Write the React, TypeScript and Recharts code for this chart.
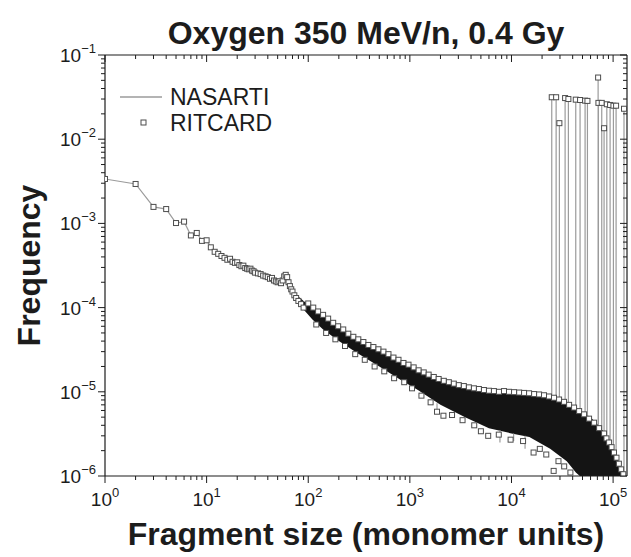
import React from "react";
import {
  ComposedChart,
  Line,
  Area,
  Scatter,
  XAxis,
  YAxis,
  Legend,
  Label,
} from "recharts";

const FONT = '"Liberation Sans", Arial, Helvetica, sans-serif';
const INK = "#1c1c1c";
const LINE_GREY = "#9b9b9b";
const SQUARE_EDGE = "#4d4d4d";

// small fragments, where both codes sit on top of each other
const smallSizes = [
  1, 2, 3, 4, 5, 6, 7, 8, 9, 10, 11, 12, 13, 14, 15, 16, 17, 18, 19, 20, 21, 22,
  23, 24, 25, 26, 27, 28, 29, 30, 32, 34, 36, 38, 40, 42, 44, 46, 48, 50, 52, 54,
  56, 58, 60, 62, 64, 66, 68, 70, 73, 76, 80, 85, 90,
];
const smallFreq = [
  3.37e-3, 2.94e-3, 1.57e-3, 1.48e-3, 1.01e-3, 1.05e-3, 7.2e-4, 7.7e-4, 6.2e-4,
  6.3e-4, 5.2e-4, 4.6e-4, 4.35e-4, 4.1e-4, 3.9e-4, 3.7e-4, 3.8e-4, 3.5e-4,
  3.4e-4, 3.45e-4, 3.2e-4, 3.1e-4, 3.15e-4, 2.95e-4, 2.9e-4, 2.85e-4, 2.9e-4,
  2.75e-4, 2.7e-4, 2.6e-4, 2.55e-4, 2.5e-4, 2.4e-4, 2.35e-4, 2.3e-4, 2.2e-4,
  2.25e-4, 2.1e-4, 2.05e-4, 2.0e-4, 2.05e-4, 1.95e-4, 2.1e-4, 2.35e-4, 2.45e-4,
  2.3e-4, 2.0e-4, 1.8e-4, 1.65e-4, 1.55e-4, 1.4e-4, 1.3e-4, 1.2e-4, 1.1e-4,
  1.0e-4,
];

// dense RITCARD cloud: lower / upper envelope
const bandSizes = [
  75, 90, 110, 140, 200, 300, 500, 800, 1200, 2000, 3500, 6000, 10000, 15000,
  24000, 35000, 43000, 47000, 60000, 75000, 90000, 100000, 115000, 125000,
];
const bandLow = [
  1.3e-4, 9.5e-5, 7.2e-5, 5.5e-5, 4.0e-5, 2.9e-5, 2.0e-5, 1.4e-5, 1.05e-5,
  7.0e-6, 5.0e-6, 3.7e-6, 3.2e-6, 2.9e-6, 2.1e-6, 1.5e-6, 1.1e-6, 1e-6, 1e-6,
  1e-6, 1e-6, 1e-6, 1e-6, 1e-6,
];
const bandHigh = [
  1.45e-4, 1.2e-4, 1.0e-4, 8.0e-5, 6.0e-5, 4.3e-5, 3.2e-5, 2.3e-5, 1.8e-5,
  1.35e-5, 1.15e-5, 1.02e-5, 9.8e-6, 9.5e-6, 8.8e-6, 7.5e-6, 6.6e-6, 6.0e-6,
  5.0e-6, 3.8e-6, 2.8e-6, 2.1e-6, 1.45e-6, 1.1e-6,
];

// squares along the top edge of the cloud
const edgeSizes = [
  100, 112, 125, 140, 157, 176, 197, 221, 248, 278, 311, 349, 391, 438, 491, 550,
  616, 690, 773, 866, 970, 1090, 1220, 1370, 1530, 1720, 1920, 2160, 2420, 2710,
  3030, 3400, 3810, 4270, 4780, 5360, 6000, 6720, 7530, 8440, 9450, 10600, 11900,
  13300, 14900, 16700, 18700, 20900, 23400, 26200, 29400, 32900, 36900, 41300,
  46300, 51800, 58000, 65000, 72800, 81500, 86000, 91300, 96600, 102000, 108000,
  114000, 120000, 126000,
];
const edgeFreq = [
  1.12e-4, 1.0e-4, 9.0e-5, 8.2e-5, 7.4e-5, 6.6e-5, 6.0e-5, 5.5e-5, 4.9e-5,
  4.5e-5, 4.2e-5, 3.9e-5, 3.6e-5, 3.4e-5, 3.2e-5, 3.0e-5, 2.8e-5, 2.55e-5,
  2.4e-5, 2.2e-5, 2.1e-5, 1.95e-5, 1.8e-5, 1.7e-5, 1.6e-5, 1.5e-5, 1.42e-5,
  1.35e-5, 1.3e-5, 1.25e-5, 1.2e-5, 1.17e-5, 1.13e-5, 1.1e-5, 1.08e-5, 1.05e-5,
  1.03e-5, 1.02e-5, 1.0e-5, 1.02e-5, 1.0e-5, 9.9e-6, 9.8e-6, 9.7e-6, 9.6e-6,
  9.4e-6, 9.3e-6, 9.1e-6, 8.8e-6, 8.5e-6, 8.1e-6, 7.6e-6, 7.0e-6, 6.5e-6,
  5.9e-6, 5.4e-6, 4.8e-6, 4.3e-6, 3.7e-6, 3.2e-6, 2.8e-6, 2.5e-6, 2.2e-6,
  1.9e-6, 1.65e-6, 1.4e-6, 1.2e-6, 1.05e-6,
];

// squares along the bottom edge and stragglers below it
const lowSizes = [
  120, 150, 185, 230, 290, 360, 450, 560, 700, 880, 1050, 1300, 1600, 1850, 2140,
  2600, 3300, 4300, 5000, 5900, 7500, 9800, 13000, 16500, 19000, 22000, 26000,
  29000, 33000, 38000,
];
const lowFreq = [
  6.3e-5, 5.0e-5, 4.2e-5, 3.5e-5, 2.8e-5, 2.4e-5, 2.0e-5, 1.75e-5, 1.45e-5,
  1.3e-5, 1.1e-5, 9.0e-6, 7.5e-6, 5.8e-6, 5.2e-6, 5.3e-6, 4.6e-6, 4.0e-6,
  3.4e-6, 3.0e-6, 3.1e-6, 2.7e-6, 2.6e-6, 1.9e-6, 2.1e-6, 1.8e-6, 1.15e-6,
  1.5e-6, 1.3e-6, 1.1e-6,
];

// single large fragments (top squares) and where their spikes meet the cloud
const spikeSizes = [
  24900, 27500, 29600, 33700, 36300, 42900, 47300, 53000, 55900, 71200, 71700,
  77300, 81500, 86700, 93400, 100700, 107000, 128000,
];
const spikeFreq = [
  3.15e-2, 3.15e-2, 1.55e-2, 3.08e-2, 3.0e-2, 2.95e-2, 2.92e-2, 2.87e-2,
  2.85e-2, 5.4e-2, 2.7e-2, 2.7e-2, 1.35e-2, 2.6e-2, 2.55e-2, 2.5e-2, 2.5e-2,
  2.3e-2,
];
const spikeBase = [
  8.7e-6, 8.4e-6, 8.0e-6, 7.6e-6, 7.2e-6, 6.6e-6, 6.0e-6, 5.5e-6, 5.2e-6,
  4.0e-6, 4.0e-6, 3.6e-6, 3.3e-6, 3.0e-6, 2.6e-6, 2.1e-6, 1.8e-6, 5e-7,
];

// NASARTI dips that poke out under the cloud
const dipSizes = [1850, 7700, 10500, 13600];
const dipBase = [7.3e-6, 3.5e-6, 3.2e-6, 3.0e-6];
const dipFreq = [6.0e-6, 2.5e-6, 2.6e-6, 2.1e-6];

const xMajor = [1, 10, 100, 1000, 10000, 100000];
const yMajor = [1e-6, 1e-5, 1e-4, 1e-3, 1e-2, 1e-1];

const minorsOf = (majors: number[]) => {
  const out: number[] = [];
  majors.forEach((m, i) => {
    out.push(m);
    if (i < majors.length - 1) for (let k = 2; k <= 9; k++) out.push(k * m);
  });
  return out;
};
const xTicks = minorsOf(xMajor);
const yTicks = minorsOf(yMajor);

const bandData = bandSizes.map((s, i) => ({ s, band: [bandLow[i], bandHigh[i]] }));
const ritcard = [
  ...smallSizes.map((s, i) => ({ s, f: smallFreq[i] })),
  ...edgeSizes.map((s, i) => ({ s, f: edgeFreq[i] })),
  ...lowSizes.map((s, i) => ({ s, f: lowFreq[i] })),
  ...spikeSizes.map((s, i) => ({ s, f: spikeFreq[i] })),
];
const nasarti = [
  ...smallSizes.map((s, i) => ({ s, f: smallFreq[i] as number | null })),
  { s: 95, f: null },
  ...dipSizes.flatMap((s, i) => [
    { s, f: dipBase[i] },
    { s, f: dipFreq[i] },
    { s, f: null },
  ]),
  ...spikeSizes.flatMap((s, i) => [
    { s, f: spikeBase[i] },
    { s, f: spikeFreq[i] },
    { s, f: null },
  ]),
];

const isMajor = (v: number) =>
  Math.abs(Math.log10(v) - Math.round(Math.log10(v))) < 1e-6;
const expText = (v: number) => {
  const e = Math.round(Math.log10(v));
  return e < 0 ? `\u2212${-e}` : `${e}`;
};

const BottomTick = ({ x, y, payload }: any) => {
  const major = isMajor(payload.value);
  return (
    <g>
      <line x1={x} x2={x} y1={y} y2={y + (major ? 7 : 4)} stroke={INK} />
      {major && (
        <text x={x} y={y + 30} textAnchor="middle" fontFamily={FONT} fontSize={19} fill={INK}>
          10
          <tspan dy={-9} fontSize={13}>
            {expText(payload.value)}
          </tspan>
        </text>
      )}
    </g>
  );
};

const LeftTick = ({ x, y, payload }: any) => {
  const major = isMajor(payload.value);
  return (
    <g>
      <line x1={x - (major ? 7 : 4)} x2={x} y1={y} y2={y} stroke={INK} />
      {major && (
        <text x={x - 9} y={y + 7} textAnchor="end" fontFamily={FONT} fontSize={19} fill={INK}>
          10
          <tspan dy={-9} fontSize={13}>
            {expText(payload.value)}
          </tspan>
        </text>
      )}
    </g>
  );
};

const TopTick = ({ x, y, payload }: any) => (
  <line x1={x} x2={x} y1={y} y2={y + (isMajor(payload.value) ? 7 : 4)} stroke={INK} />
);

const RightTick = ({ x, y, payload }: any) => (
  <line x1={x - (isMajor(payload.value) ? 7 : 4)} x2={x} y1={y} y2={y} stroke={INK} />
);

const Square = (p: any) =>
  p.cx == null || p.cy == null ? null : (
    <rect
      x={p.cx - 2.5}
      y={p.cy - 2.5}
      width={5}
      height={5}
      fill="#fff"
      stroke={SQUARE_EDGE}
      strokeWidth={1}
    />
  );

const LegendBox = () => (
  <svg width={200} height={64} style={{ display: "block" }}>
    <line x1={10} x2={52} y1={22} y2={22} stroke={LINE_GREY} strokeWidth={1.5} />
    <text x={60} y={30} fontFamily={FONT} fontSize={23} fill={INK}>
      NASARTI
    </text>
    <rect x={31} y={45} width={5} height={5} fill="#fff" stroke={SQUARE_EDGE} />
    <text x={60} y={56} fontFamily={FONT} fontSize={23} fill={INK}>
      RITCARD
    </text>
  </svg>
);

export default function App() {
  return (
    <div style={{ position: "absolute", left: 0, top: 0, background: "#fff" }}>
      <ComposedChart
        width={631}
        height={557}
        data={bandData}
        margin={{ top: 54, right: 3, bottom: 80, left: 104 }}
      >
        <XAxis
          dataKey="s"
          type="number"
          scale="log"
          domain={[1, 137000]}
          allowDataOverflow
          ticks={xTicks}
          interval={0}
          height={1}
          tickSize={0}
          tickMargin={0}
          tickLine={false}
          axisLine={{ stroke: INK, strokeWidth: 1.2 }}
          tick={<BottomTick />}
        >
          <Label
            content={({ viewBox }: any) => (
              <text
                x={viewBox.x + viewBox.width / 2}
                y={viewBox.y + 69}
                textAnchor="middle"
                fontFamily={FONT}
                fontWeight="bold"
                fontSize={32}
                fill={INK}
              >
                Fragment size (monomer units)
              </text>
            )}
          />
        </XAxis>
        <XAxis
          xAxisId="top"
          orientation="top"
          dataKey="s"
          type="number"
          scale="log"
          domain={[1, 137000]}
          allowDataOverflow
          ticks={xTicks}
          interval={0}
          height={1}
          tickSize={0}
          tickMargin={0}
          tickLine={false}
          axisLine={{ stroke: INK, strokeWidth: 1.2 }}
          tick={<TopTick />}
        >
          <Label
            content={({ viewBox }: any) => (
              <text
                x={viewBox.x + viewBox.width / 2}
                y={viewBox.y - 10}
                textAnchor="middle"
                fontFamily={FONT}
                fontWeight="bold"
                fontSize={32}
                fill={INK}
              >
                Oxygen 350 MeV/n, 0.4 Gy
              </text>
            )}
          />
        </XAxis>
        <YAxis
          type="number"
          scale="log"
          domain={[1e-6, 1e-1]}
          allowDataOverflow
          ticks={yTicks}
          interval={0}
          width={1}
          tickSize={0}
          tickMargin={0}
          tickLine={false}
          axisLine={{ stroke: INK, strokeWidth: 1.2 }}
          tick={<LeftTick />}
        >
          <Label
            content={({ viewBox }: any) => {
              const cx = viewBox.x - 64;
              const cy = viewBox.y + viewBox.height / 2;
              return (
                <text
                  x={cx}
                  y={cy}
                  transform={`rotate(-90 ${cx} ${cy})`}
                  textAnchor="middle"
                  fontFamily={FONT}
                  fontWeight="bold"
                  fontSize={32}
                  fill={INK}
                >
                  Frequency
                </text>
              );
            }}
          />
        </YAxis>
        <YAxis
          yAxisId="right"
          orientation="right"
          type="number"
          scale="log"
          domain={[1e-6, 1e-1]}
          allowDataOverflow
          ticks={yTicks}
          interval={0}
          width={1}
          tickSize={0}
          tickMargin={0}
          tickLine={false}
          axisLine={{ stroke: INK, strokeWidth: 1.2 }}
          tick={<RightTick />}
        />
        <Legend
          layout="vertical"
          align="center"
          verticalAlign="middle"
          wrapperStyle={{ left: 110, top: 75, width: 200, height: 64 }}
          content={() => <LegendBox />}
        />
        <Line
          data={nasarti}
          dataKey="f"
          name="NASARTI"
          stroke={LINE_GREY}
          strokeWidth={1.2}
          dot={false}
          connectNulls={false}
          isAnimationActive={false}
        />
        <Area
          dataKey="band"
          name="cloud"
          type="linear"
          stroke="none"
          fill="#141414"
          fillOpacity={1}
          isAnimationActive={false}
        />
        <Scatter
          data={ritcard}
          dataKey="f"
          name="RITCARD"
          shape={<Square />}
          isAnimationActive={false}
        />
      </ComposedChart>
    </div>
  );
}
